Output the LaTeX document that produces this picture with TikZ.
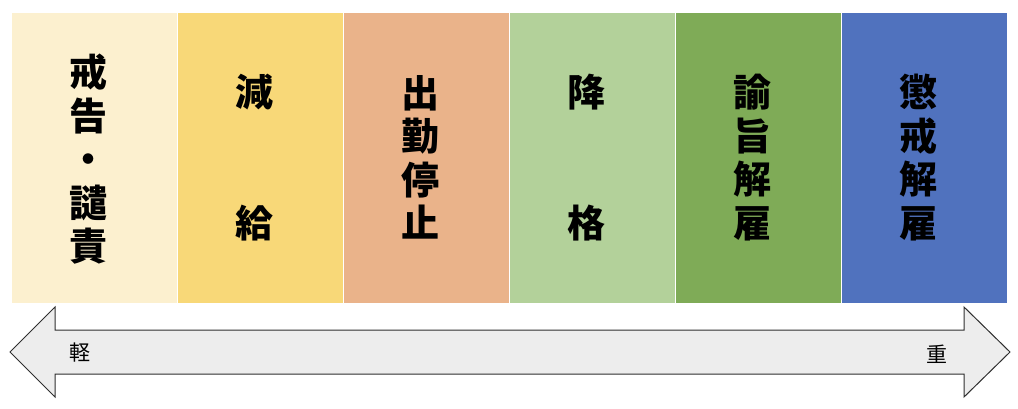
\documentclass[tikz,border=0pt]{standalone}
\usepackage{fontspec}
\newfontfamily\jp{Noto Sans CJK JP}
\definecolor{cA}{HTML}{FCF0CF}
\definecolor{cB}{HTML}{F8D878}
\definecolor{cC}{HTML}{EAB38A}
\definecolor{cD}{HTML}{B3D19A}
\definecolor{cE}{HTML}{7FAB57}
\definecolor{cF}{HTML}{5072BE}
\definecolor{arrfill}{HTML}{EDEDED}
\definecolor{arrline}{HTML}{2F2F2F}
\begin{document}
\begin{tikzpicture}[x=1pt,y=-1pt,
  col/.style={draw=white, line width=1pt, minimum width=166pt, minimum height=291pt, inner sep=0pt},
  lab/.style={font=\jp\bfseries\fontsize{38}{43.5}\selectfont, align=center, inner sep=0pt},
  endlab/.style={font=\jp\fontsize{21}{21}\selectfont, inner sep=0pt},
  arrshape/.style={draw=arrline, fill=arrfill, line width=1pt, line join=miter}]
\useasboundingbox (0,0) rectangle (1018,408);
\node[col, fill=cA] (c1) at (94,157.5) {};
\node[col, fill=cB] (c2) at (260,157.5) {};
\node[col, fill=cC] (c3) at (426,157.5) {};
\node[col, fill=cD] (c4) at (592,157.5) {};
\node[col, fill=cE] (c5) at (758,157.5) {};
\node[col, fill=cF] (c6) at (924,157.5) {};
\node[lab] (t1) at ([xshift=-6pt,yshift=-2pt]c1.center) {戒\\告\\・\\譴\\責};
\node[lab] (t2) at ([xshift=-6pt]c2.center) {減\\[88pt]給};
\node[lab] (t3) at ([xshift=-6pt]c3.center) {出\\勤\\停\\止};
\node[lab] (t4) at ([xshift=-6pt]c4.center) {降\\[88pt]格};
\node[lab] (t5) at ([xshift=-6pt]c5.center) {諭\\旨\\解\\雇};
\node[lab] (t6) at ([xshift=-6pt]c6.center) {懲\\戒\\解\\雇};
\draw[arrshape] (10,352) -- (55,307) -- (55,330) -- (964,330) -- (964,307)
  -- (1010,352) -- (964,397) -- (964,374) -- (55,374) -- (55,397) -- cycle;
\node[endlab] (light) at (80,353) {軽};
\node[endlab] (heavy) at (937,354) {重};
\end{tikzpicture}
\end{document}
